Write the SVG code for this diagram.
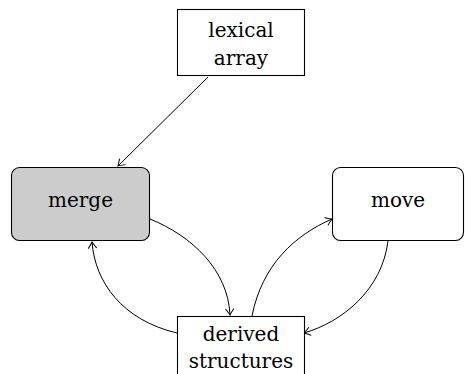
<svg xmlns="http://www.w3.org/2000/svg" width="465" height="374" viewBox="0 0 465 374">
<style>
.box{fill:#ffffff;stroke:#000;stroke-width:1.1}
.gray{fill:#cccccc}
.lbl{font-family:"DejaVu Serif","Liberation Serif",serif;font-size:20px;fill:#000;text-anchor:middle}
.edge{fill:none;stroke:#000;stroke-width:1}
</style>
<defs>
<marker id="to" viewBox="-8 -5 10 10" markerWidth="10" markerHeight="10" refX="0" refY="0" orient="auto" markerUnits="userSpaceOnUse">
<path d="M-6,-4 Q-1.5,-0.8 0,0 Q-1.5,0.8 -6,4" fill="none" stroke="#000" stroke-width="1" stroke-linecap="round"/>
</marker>
</defs>
<rect width="465" height="374" fill="#ffffff"/>
<g id="connectors">
<path class="edge" d="M208,77 L118,166" marker-end="url(#to)"/>
<path class="edge" d="M150,219 C192,236 228,270 230,315" marker-end="url(#to)"/>
<path class="edge" d="M177,333 C122,320 95,282 92,242" marker-end="url(#to)"/>
<path class="edge" d="M252,316 C262,265 295,235 332,219" marker-end="url(#to)"/>
<path class="edge" d="M388,241 C382,290 342,322 304,333" marker-end="url(#to)"/>
</g>
<g id="lexical-array">
<rect class="box" x="177.5" y="9.5" width="127" height="66"/>
<text class="lbl" x="241" y="37">lexical</text>
<text class="lbl" x="241" y="65">array</text>
</g>
<g id="merge">
<rect class="box gray" x="11.5" y="167.5" width="138" height="73" rx="8" ry="8"/>
<text class="lbl" x="80.5" y="207">merge</text>
</g>
<g id="move">
<rect class="box" x="332.5" y="167.5" width="131" height="73" rx="8" ry="8"/>
<text class="lbl" x="398" y="207">move</text>
</g>
<g id="derived-structures">
<rect class="box" x="177.5" y="316.5" width="127" height="66"/>
<text class="lbl" x="241" y="341">derived</text>
<text class="lbl" x="241" y="368">structures</text>
</g>
</svg>
